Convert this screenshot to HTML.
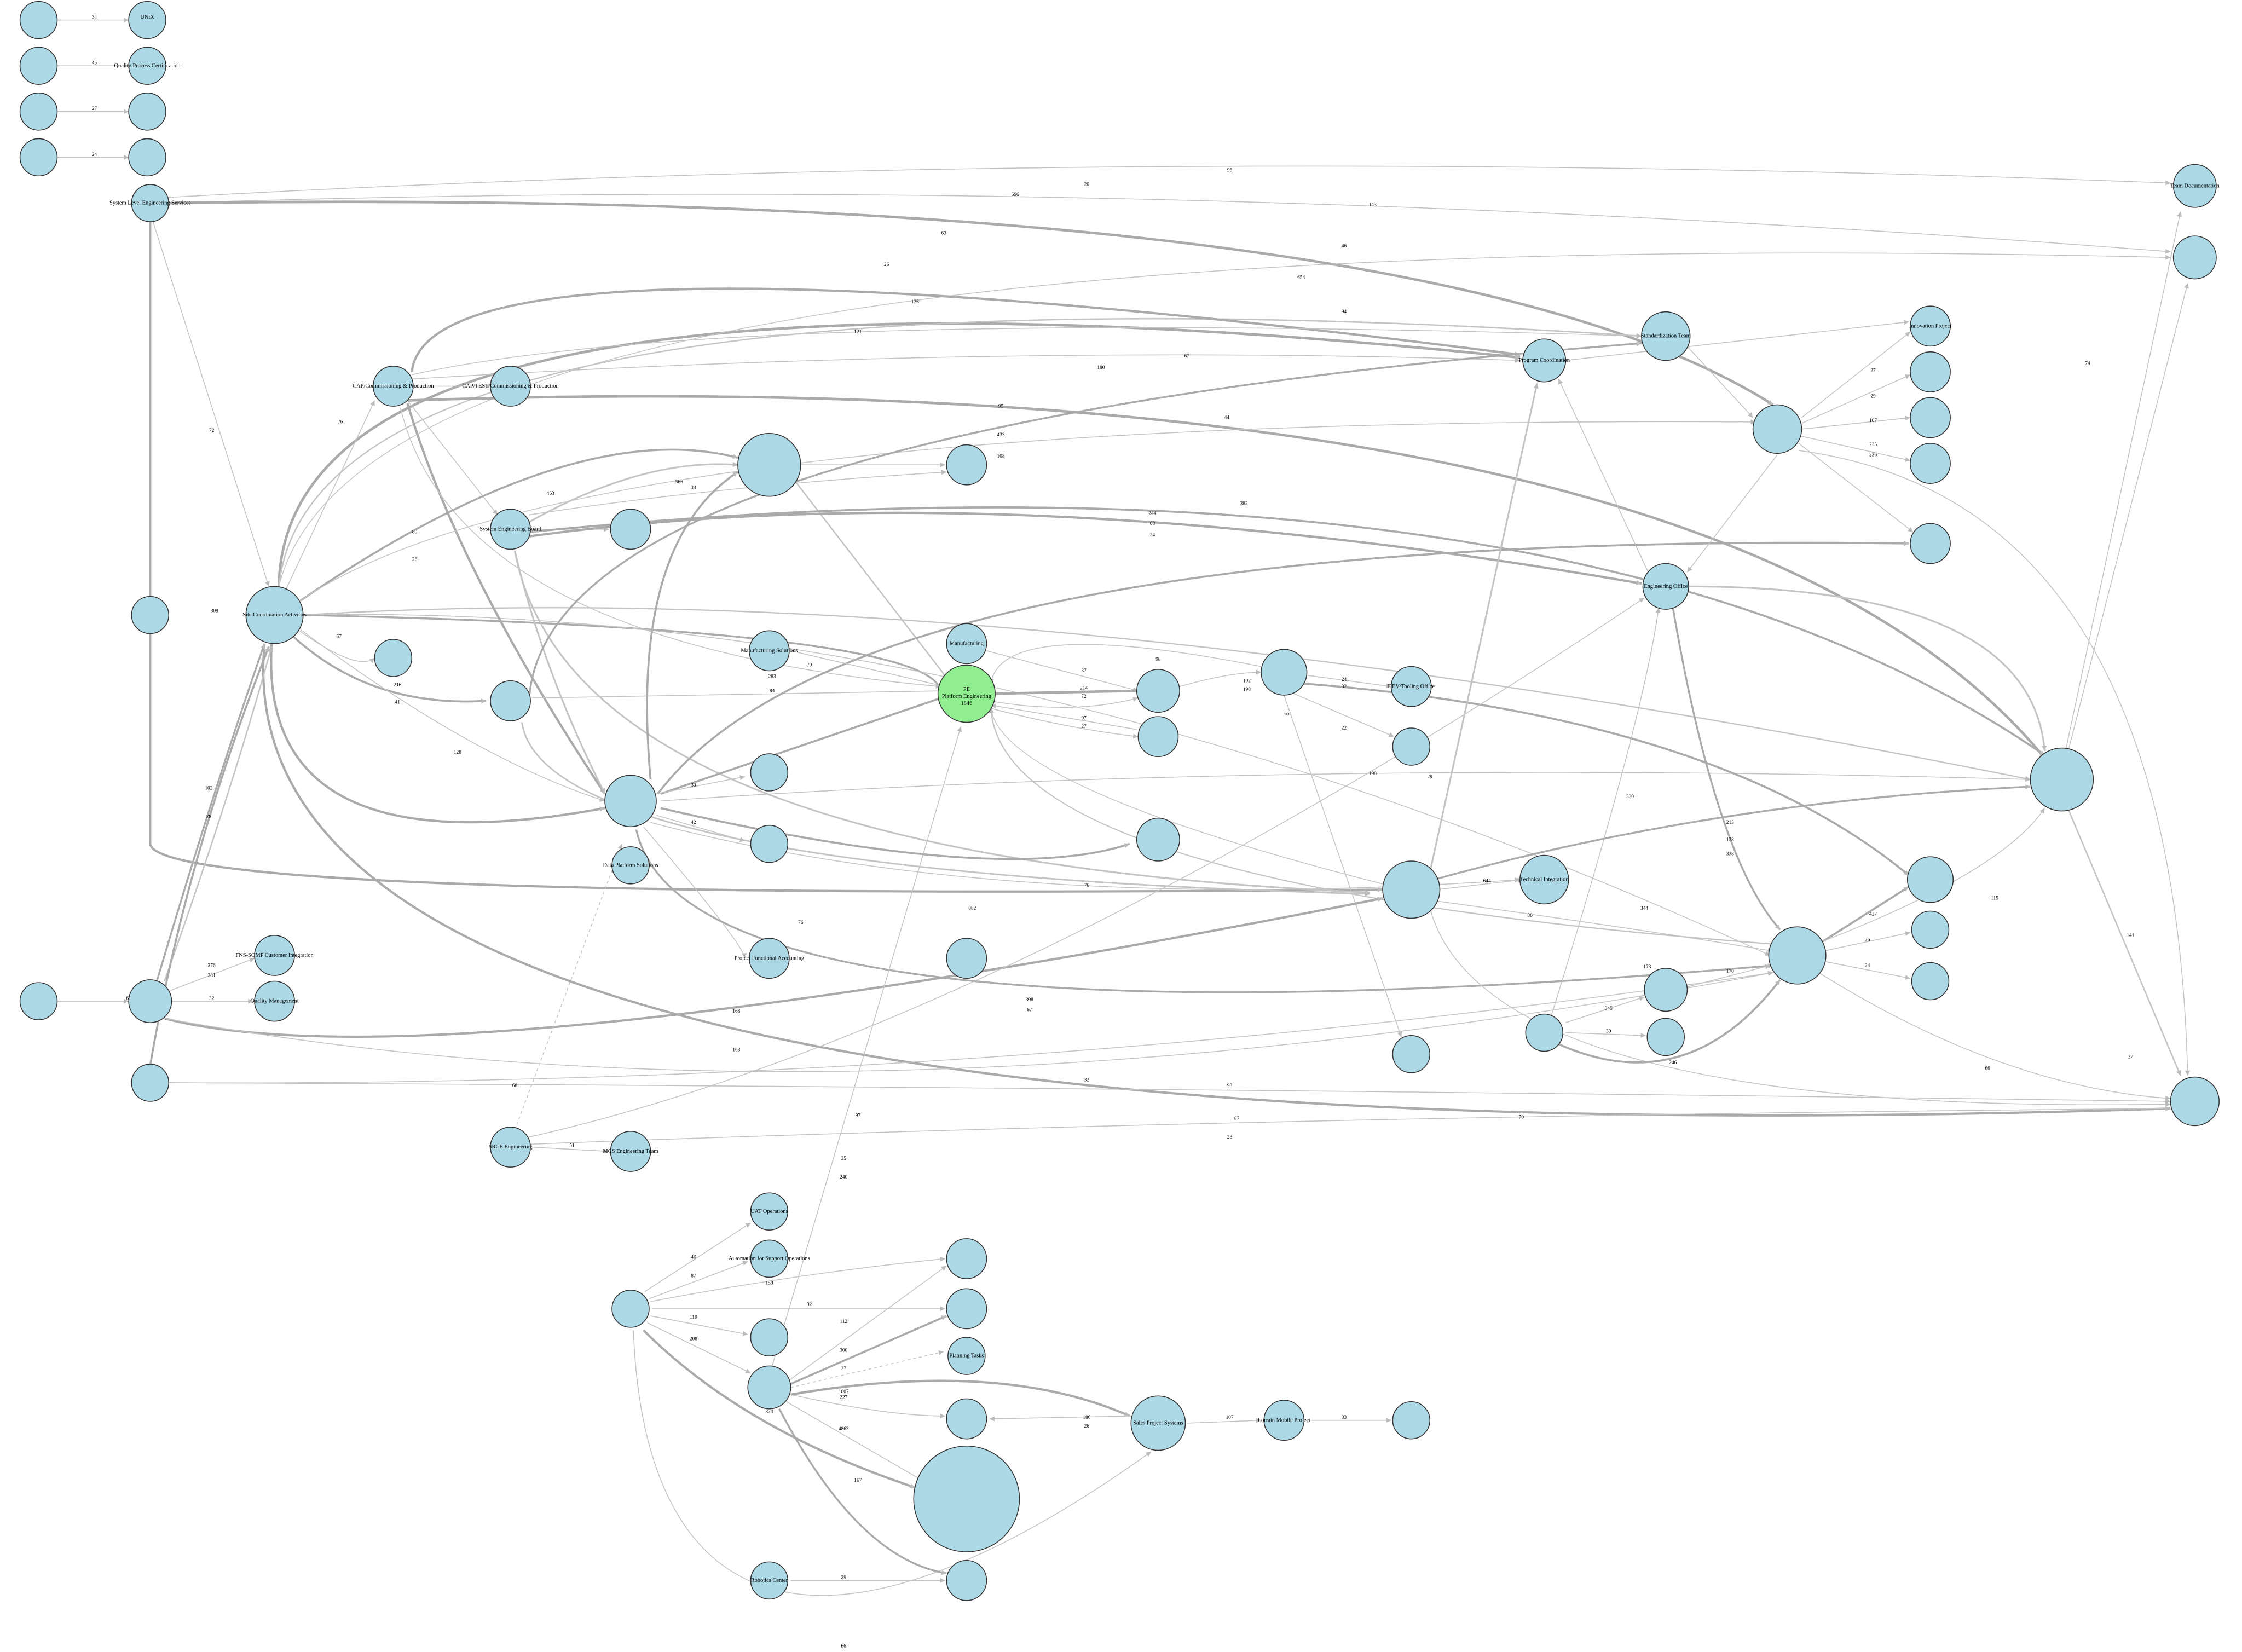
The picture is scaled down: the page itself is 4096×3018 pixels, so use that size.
<!DOCTYPE html>
<html><head><meta charset="utf-8"><style>
html,body{margin:0;padding:0;background:#fff;}
svg{display:block}
text{font-family:"Liberation Serif",serif;fill:#000}
</style></head><body>
<svg width="4096" height="3018" viewBox="0 0 1568 1155" preserveAspectRatio="none" xmlns="http://www.w3.org/2000/svg">
<defs><marker id="a" viewBox="0 0 10 10" refX="10" refY="5" markerWidth="5" markerHeight="3.5" markerUnits="userSpaceOnUse" orient="auto"><path d="M0,0L10,5L0,10z" fill="#bbb"/></marker></defs>
<rect width="1568" height="1155" fill="#fff"/>
<g fill="none" stroke="#c4c4c4" stroke-width="0.6" marker-end="url(#a)">
<line x1="40" y1="14" x2="90" y2="14"/><line x1="40" y1="46" x2="90" y2="46"/><line x1="40" y1="78" x2="90" y2="78"/><line x1="40" y1="110" x2="90" y2="110"/>
<path d="M118,138 Q800,100 1518,128"/>
<path d="M118,142 Q800,120 1518,176"/>
<path d="M118,142 Q1000,130 1240,283" stroke-width="1.8" stroke="#aaa"/>
<line x1="107" y1="155" x2="188" y2="410"/>
<path d="M105,155 L105,590 Q110,630 967,622" stroke-width="1.6" stroke="#aaa"/>
<path d="M195,410 Q200,160 1063,250" stroke-width="1.8" stroke="#aaa"/>
<path d="M195,410 Q220,175 1148,235" stroke-width="1"/>
<path d="M195,410 Q260,150 1518,180" stroke-width="0.6"/>
<line x1="200" y1="412" x2="262" y2="280"/>
<path d="M212,430 Q700,400 1420,545" stroke-width="0.9"/>
<path d="M212,430 Q660,440 658,485" stroke-width="1.3" stroke="#aaa"/>
<path d="M208,440 Q250,470 262,460"/>
<path d="M205,445 Q260,495 340,490" stroke-width="1.4" stroke="#aaa"/>
<path d="M210,440 Q330,530 423,560"/>
<path d="M190,450 Q180,610 423,565" stroke-width="1.6" stroke="#aaa"/>
<path d="M185,450 Q150,820 1518,775" stroke-width="1.6" stroke="#aaa"/>
<path d="M212,430 Q700,420 1238,668"/>
<path d="M288,260 Q300,150 1063,248" stroke-width="1.6" stroke="#aaa"/>
<path d="M288,262 Q500,215 1148,235"/>
<path d="M288,265 Q700,240 1063,252"/>
<line x1="289" y1="270" x2="343" y2="270"/>
<line x1="285" y1="280" x2="348" y2="360"/>
<path d="M285,282 Q320,400 423,555" stroke-width="1.6" stroke="#aaa"/>
<path d="M285,280 Q1200,250 1430,530" stroke-width="1.8" stroke="#aaa"/>
<path d="M280,285 Q320,450 658,480"/>
<path d="M560,325 L661,325"/><path d="M555,335 L663,475" stroke-width="1"/>
<path d="M210,420 Q400,290 516,320" stroke-width="1.4" stroke="#aaa"/>
<path d="M370,365 Q450,320 516,325" stroke-width="1.2"/>
<path d="M370,360 Q500,340 662,330"/>
<line x1="372" y1="370" x2="426" y2="370"/>
<path d="M370,375 Q700,330 1148,408" stroke-width="1.6" stroke="#aaa"/>
<path d="M370,372 Q1100,300 1430,528" stroke-width="1.4" stroke="#aaa"/>
<path d="M360,385 Q380,470 423,555" stroke-width="1.2"/>
<path d="M360,385 Q400,600 958,624" stroke-width="1.2"/>
<path d="M210,420 Q400,290 1228,295" stroke-width="0.6"/>
<path d="M370,490 Q380,300 1148,240" stroke-width="1.3" stroke="#aaa"/>
<path d="M372,488 L660,483" stroke-width="0.6"/>
<path d="M365,505 Q380,610 958,625" stroke-width="1.1"/>
<path d="M462,555 L661,487" stroke-width="1.4" stroke="#aaa"/>
<path d="M455,545 Q440,380 516,330" stroke-width="1.4" stroke="#aaa"/>
<path d="M460,555 Q600,370 1335,380" stroke-width="1.4" stroke="#aaa"/>
<path d="M462,560 Q900,530 1420,545"/>
<path d="M462,565 Q700,620 790,590" stroke-width="1.4" stroke="#aaa"/>
<line x1="459" y1="555" x2="521" y2="543"/><line x1="459" y1="570" x2="521" y2="588"/>
<path d="M450,578 Q520,660 521,670"/>
<path d="M445,580 Q480,740 1240,675" stroke-width="1.3" stroke="#aaa"/>
<path d="M455,575 Q700,640 1063,615"/>
<line x1="553" y1="455" x2="661" y2="480"/>
<line x1="690" y1="455" x2="796" y2="483"/>
<path d="M795,483 L693,485" stroke-width="1.8" stroke="#aaa"/>
<path d="M692,490 Q750,500 796,488"/>
<path d="M795,510 L693,493"/>
<path d="M692,495 Q750,510 796,515"/>
<path d="M825,480 Q860,470 882,470"/>
<path d="M882,466 Q700,430 693,478"/>
<line x1="913" y1="472" x2="973" y2="480"/>
<line x1="905" y1="485" x2="975" y2="515"/>
<path d="M912,478 Q1200,500 1335,612" stroke-width="1.4" stroke="#aaa"/>
<path d="M898,486 L980,725"/>
<path d="M967,618 Q700,550 693,495"/>
<path d="M1003,615 Q1200,560 1420,550" stroke-width="1.3" stroke="#aaa"/>
<path d="M1005,622 L1065,615"/>
<path d="M1000,610 L1075,268" stroke-width="1.2"/>
<path d="M1000,635 Q1040,780 1518,772"/>
<path d="M1005,630 Q1150,650 1240,665"/>
<path d="M1272,660 L1335,620" stroke-width="1.4" stroke="#aaa"/>
<line x1="1275" y1="665" x2="1336" y2="652"/><line x1="1275" y1="672" x2="1336" y2="684"/>
<path d="M1270,660 Q1400,610 1430,565"/>
<path d="M1272,680 Q1400,760 1518,768"/>
<path d="M1240,660 Q700,620 693,495" stroke-width="0.9"/>
<path d="M1095,715 L1150,697"/><line x1="1095" y1="722" x2="1151" y2="724"/>
<path d="M1090,730 Q1180,770 1245,685" stroke-width="1.4" stroke="#aaa"/>
<path d="M1085,710 Q1150,500 1160,425"/>
<line x1="1180" y1="690" x2="1238" y2="675"/>
<path d="M1170,425 Q1200,600 1245,650" stroke-width="1.3" stroke="#aaa"/>
<path d="M1180,410 Q1420,410 1430,525" stroke-width="1.2"/>
<path d="M1155,405 L1090,265"/>
<path d="M1243,318 L1180,400"/>
<line x1="1260" y1="292" x2="1336" y2="232"/><line x1="1260" y1="296" x2="1336" y2="262"/><line x1="1260" y1="300" x2="1336" y2="292"/><line x1="1260" y1="305" x2="1336" y2="322"/><line x1="1258" y1="310" x2="1338" y2="372"/>
<path d="M1258,315 Q1520,350 1530,752"/>
<path d="M1178,240 L1226,292"/>
<path d="M1095,252 L1335,225"/>
<line x1="1445" y1="523" x2="1525" y2="148"/><line x1="1447" y1="523" x2="1530" y2="198"/>
<line x1="1447" y1="567" x2="1525" y2="752" stroke-width="1"/>
<line x1="40" y1="700" x2="90" y2="700"/>
<path d="M110,685 Q150,550 185,450" stroke-width="1.3" stroke="#aaa"/>
<path d="M115,686 Q160,560 190,452" stroke-width="1"/>
<line x1="118" y1="693" x2="178" y2="670"/><line x1="120" y1="700" x2="177" y2="700"/>
<path d="M115,712 Q300,760 967,628" stroke-width="1.6" stroke="#aaa"/>
<path d="M115,712 Q600,800 1240,680"/>
<path d="M105,745 Q130,600 188,452" stroke-width="1.4" stroke="#aaa"/>
<path d="M118,757 Q700,760 1240,680"/>
<path d="M118,757 Q800,760 1518,770"/>
<line x1="372" y1="802" x2="426" y2="805"/>
<path d="M370,800 Q900,780 1518,775"/>
<path d="M370,795 Q700,720 1150,418"/>
<path d="M360,790 L435,590" stroke-dasharray="2,2"/>
<line x1="451" y1="903" x2="525" y2="855"/><line x1="454" y1="908" x2="523" y2="882"/>
<path d="M455,910 Q560,890 661,880"/><line x1="456" y1="915" x2="661" y2="915"/>
<line x1="455" y1="920" x2="523" y2="933"/><line x1="453" y1="925" x2="525" y2="960"/>
<path d="M450,930 Q520,1000 640,1040" stroke-width="1.6" stroke="#aaa"/>
<path d="M443,930 C450,1120 560,1190 805,1015"/>
<path d="M540,955 L672,508"/>
<path d="M552,965 L662,885"/><path d="M552,968 L662,920" stroke-width="1.4" stroke="#aaa"/>
<path d="M553,970 L660,945" stroke-dasharray="2,2"/>
<path d="M553,975 Q620,990 661,990"/>
<path d="M553,975 Q700,950 790,990" stroke-width="1.6" stroke="#aaa"/>
<path d="M550,980 L645,1035"/>
<path d="M545,985 Q600,1090 662,1100" stroke-width="1.3" stroke="#aaa"/>
<path d="M792,990 L692,992"/>
<line x1="830" y1="995" x2="882" y2="993"/><line x1="913" y1="993" x2="973" y2="993"/>
<line x1="553" y1="1105" x2="661" y2="1105"/>
</g>
<g fill="#add8e6" stroke="#333" stroke-width="0.6">
<circle cx="27" cy="14" r="13"/><circle cx="103" cy="14" r="13"/><circle cx="27" cy="46" r="13"/><circle cx="103" cy="46" r="13"/>
<circle cx="27" cy="78" r="13"/><circle cx="103" cy="78" r="13"/><circle cx="27" cy="110" r="13"/><circle cx="103" cy="110" r="13"/>
<circle cx="105" cy="142" r="13"/><circle cx="1535" cy="130" r="15"/><circle cx="1535" cy="180" r="15"/>
<circle cx="275" cy="270" r="14"/><circle cx="357" cy="270" r="14"/><circle cx="1080" cy="252" r="15"/><circle cx="1165" cy="235" r="17"/>
<circle cx="1350" cy="228" r="14"/><circle cx="1350" cy="260" r="14"/><circle cx="1350" cy="292" r="14"/><circle cx="1350" cy="324" r="14"/>
<circle cx="1243" cy="300" r="17"/><circle cx="538" cy="325" r="22"/><circle cx="676" cy="325" r="14"/>
<circle cx="357" cy="370" r="14"/><circle cx="441" cy="370" r="14"/><circle cx="1350" cy="380" r="14"/><circle cx="1165" cy="410" r="16"/>
<circle cx="105" cy="430" r="13"/><circle cx="192" cy="430" r="20"/><circle cx="275" cy="460" r="13"/><circle cx="538" cy="455" r="14"/><circle cx="676" cy="450" r="14"/>
<circle cx="810" cy="483" r="15"/><circle cx="898" cy="470" r="16"/><circle cx="987" cy="480" r="14"/><circle cx="810" cy="515" r="14"/><circle cx="987" cy="522" r="13"/>
<circle cx="357" cy="490" r="14"/><circle cx="441" cy="560" r="18"/><circle cx="538" cy="540" r="13"/><circle cx="538" cy="590" r="13"/><circle cx="810" cy="587" r="15"/><circle cx="441" cy="605" r="13"/>
<circle cx="1442" cy="545" r="22"/><circle cx="987" cy="622" r="20"/><circle cx="1080" cy="615" r="17"/>
<circle cx="1350" cy="615" r="16"/><circle cx="1350" cy="650" r="13"/><circle cx="1350" cy="686" r="13"/><circle cx="1257" cy="668" r="20"/>
<circle cx="538" cy="670" r="14"/><circle cx="676" cy="670" r="14"/><circle cx="1165" cy="692" r="15"/><circle cx="1080" cy="722" r="13"/><circle cx="1165" cy="725" r="13"/>
<circle cx="27" cy="700" r="13"/><circle cx="105" cy="700" r="15"/><circle cx="192" cy="668" r="14"/><circle cx="192" cy="700" r="14"/><circle cx="105" cy="757" r="13"/>
<circle cx="987" cy="737" r="13"/><circle cx="1535" cy="770" r="17"/><circle cx="357" cy="802" r="14"/><circle cx="441" cy="805" r="14"/>
<circle cx="538" cy="847" r="13"/><circle cx="538" cy="880" r="13"/><circle cx="676" cy="880" r="14"/><circle cx="676" cy="915" r="14"/>
<circle cx="441" cy="915" r="13"/><circle cx="538" cy="935" r="13"/><circle cx="538" cy="970" r="15"/><circle cx="676" cy="948" r="13"/><circle cx="676" cy="992" r="14"/>
<circle cx="810" cy="995" r="19"/><circle cx="898" cy="993" r="14"/><circle cx="987" cy="993" r="13"/><circle cx="676" cy="1048" r="37"/>
<circle cx="538" cy="1105" r="13"/><circle cx="676" cy="1105" r="14"/>
<circle cx="676" cy="485" r="20" fill="#90ee90"/>
</g>
<g font-size="4" text-anchor="middle">
<text x="676" y="483">PE</text><text x="676" y="488">Platform Engineering</text><text x="676" y="493">1846</text>
<text x="103" y="13">UNiX</text><text x="103" y="47">Quality Process Certification</text>
<text x="105" y="143">System Level Engineering Services</text>
<text x="275" y="271">CAP/Commissioning &amp; Production</text><text x="357" y="271">CAP/TEST/Commissioning &amp; Production</text>
<text x="192" y="431">Site Coordination Activities</text><text x="357" y="371">System Engineering Board</text>
<text x="1080" y="253">Program Coordination</text><text x="1165" y="236">Standardization Team</text>
<text x="1350" y="229">Innovation Project</text><text x="1535" y="131">Team Documentation</text>
<text x="1165" y="411">Engineering Office</text><text x="987" y="481">DEV/Tooling Office</text>
<text x="1080" y="616">Technical Integration</text><text x="441" y="606">Data Platform Solutions</text>
<text x="538" y="671">Project Functional Accounting</text><text x="192" y="669">FNS-SOMP Customer Integration</text><text x="192" y="701">Quality Management</text>
<text x="357" y="803">SRCE Engineering</text><text x="441" y="806">MCS Engineering Team</text>
<text x="538" y="848">UAT Operations</text><text x="538" y="881">Automation for Support Operations</text>
<text x="676" y="949">Planning Tasks</text><text x="810" y="996">Sales Project Systems</text><text x="898" y="994">Lorrain Mobile Project</text>
<text x="538" y="1106">Robotics Center</text><text x="538" y="456">Manufacturing Solutions</text><text x="676" y="451">Manufacturing</text>
</g>
<g font-size="3.6" text-anchor="middle">
<text x="66" y="13">34</text><text x="66" y="45">45</text><text x="66" y="77">27</text><text x="66" y="109">24</text>
<text x="860" y="120">96</text><text x="760" y="130">20</text><text x="710" y="137">696</text><text x="960" y="144">143</text>
<text x="660" y="164">63</text><text x="940" y="173">46</text><text x="620" y="186">26</text><text x="910" y="195">654</text>
<text x="640" y="212">136</text><text x="940" y="219">94</text><text x="600" y="233">121</text><text x="830" y="250">67</text><text x="770" y="258">180</text>
<text x="1310" y="260">27</text><text x="1310" y="278">29</text><text x="1310" y="295">107</text><text x="1310" y="312">235</text><text x="1310" y="319">236</text>
<text x="700" y="285">95</text><text x="700" y="305">433</text><text x="700" y="320">108</text><text x="858" y="293">44</text>
<text x="385" y="346">463</text><text x="475" y="338">566</text><text x="485" y="342">34</text>
<text x="870" y="353">382</text><text x="806" y="360">244</text><text x="806" y="367">63</text><text x="806" y="375">24</text>
<text x="148" y="302">72</text><text x="238" y="296">76</text><text x="290" y="373">80</text><text x="290" y="392">26</text>
<text x="150" y="428">309</text><text x="237" y="446">67</text><text x="278" y="480">216</text><text x="278" y="492">41</text>
<text x="566" y="466">79</text><text x="758" y="470">37</text><text x="810" y="462">98</text><text x="758" y="482">214</text><text x="758" y="488">72</text>
<text x="758" y="503">97</text><text x="758" y="509">27</text><text x="872" y="477">102</text><text x="872" y="483">198</text>
<text x="940" y="476">24</text><text x="940" y="481">32</text><text x="900" y="500">65</text><text x="940" y="510">22</text><text x="960" y="542">190</text>
<text x="540" y="474">283</text><text x="540" y="484">84</text><text x="485" y="550">30</text><text x="485" y="576">42</text>
<text x="320" y="527">128</text><text x="1000" y="544">29</text><text x="1140" y="558">330</text><text x="1210" y="576">213</text><text x="1210" y="588">138</text>
<text x="1040" y="617">644</text><text x="1210" y="598">338</text><text x="1310" y="640">427</text><text x="1306" y="658">26</text><text x="1306" y="676">24</text>
<text x="1395" y="629">115</text><text x="1070" y="641">86</text><text x="1150" y="636">344</text><text x="1152" y="677">173</text>
<text x="1125" y="706">345</text><text x="1125" y="722">30</text><text x="1170" y="744">246</text><text x="1210" y="680">170</text>
<text x="1390" y="748">66</text><text x="1490" y="655">141</text><text x="1490" y="740">37</text><text x="1460" y="255">74</text>
<text x="760" y="620">76</text><text x="680" y="636">882</text><text x="560" y="646">76</text><text x="720" y="700">398</text><text x="720" y="707">67</text>
<text x="90" y="699">61</text><text x="148" y="676">276</text><text x="148" y="683">381</text><text x="148" y="699">32</text><text x="146" y="552">102</text><text x="146" y="572">28</text>
<text x="515" y="735">163</text><text x="515" y="708">168</text><text x="360" y="760">68</text><text x="600" y="781">97</text><text x="760" y="756">32</text><text x="860" y="760">98</text><text x="865" y="783">87</text>
<text x="1064" y="782">70</text><text x="860" y="796">23</text><text x="400" y="802">51</text><text x="590" y="824">240</text>
<text x="485" y="880">46</text><text x="485" y="893">87</text><text x="538" y="898">158</text><text x="566" y="913">92</text><text x="485" y="922">119</text><text x="485" y="937">208</text>
<text x="590" y="925">112</text><text x="590" y="945">300</text><text x="590" y="958">27</text><text x="590" y="974">1007</text><text x="590" y="978">227</text><text x="538" y="988">374</text>
<text x="590" y="1000">4863</text><text x="600" y="1036">167</text><text x="760" y="992">186</text><text x="760" y="998">26</text><text x="860" y="992">107</text><text x="940" y="992">33</text>
<text x="590" y="1104">29</text><text x="590" y="1152">66</text><text x="590" y="811">35</text>
</g>
</svg>
</body></html>
